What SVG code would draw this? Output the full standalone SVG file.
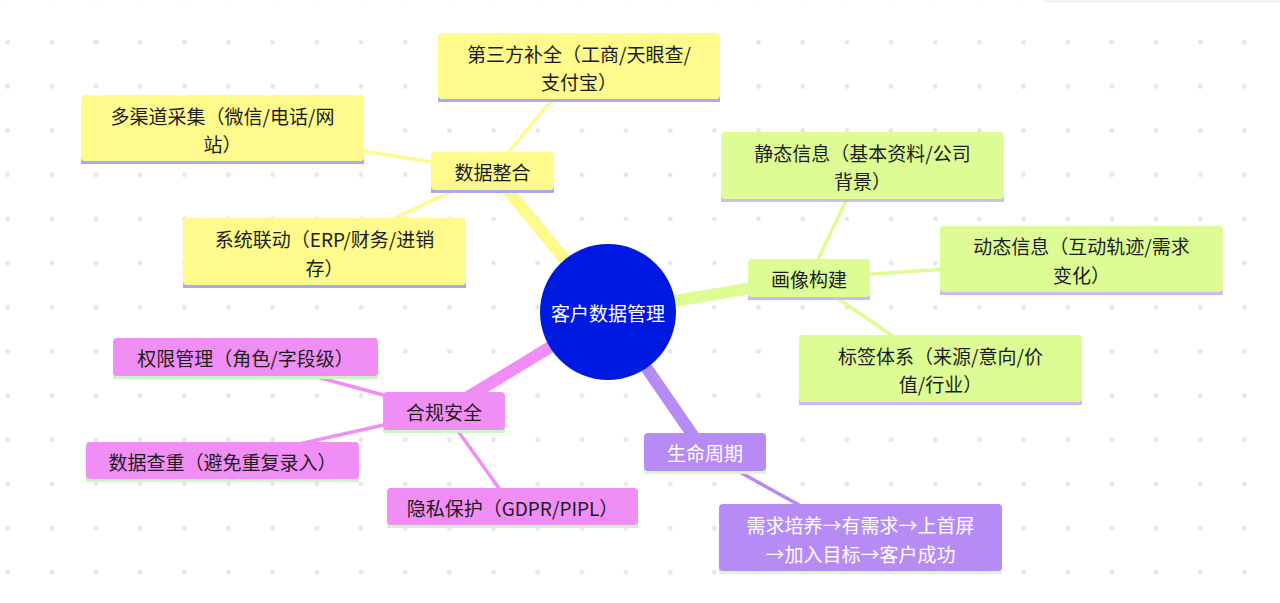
<svg xmlns="http://www.w3.org/2000/svg" width="1280" height="603" viewBox="0 0 1280 603">
  <defs>
    <pattern id="dots" x="-14.42" y="-23.95" width="44.17" height="44.17" patternUnits="userSpaceOnUse">
      <circle cx="22.08" cy="22.08" r="2.4" fill="#e6e6e6"/>
    </pattern>
    <style>
      .t { font-family: "Noto Sans CJK SC", "Noto Sans", sans-serif; font-size: 19px; fill: #1c1c1c; text-anchor: middle; dominant-baseline: central; }
      .w { fill: #ffffff; }
      .n-y { fill: #fffa8c; } .b-y { fill: #a9aaf5; }
      .n-g { fill: #ddfc94; } .b-g { fill: #cdb9f7; }
      .n-p { fill: #f08ef5; } .b-p { fill: #c9f7c4; }
      .n-v { fill: #b78bf5; } .b-v { fill: #d9f9c4; }
      .thick { stroke-width: 12; fill: none; }
      .thin { stroke-width: 3.5; fill: none; }
      .s-y { stroke: #fffa8c; } .s-g { stroke: #ddfc94; } .s-p { stroke: #f08ef5; } .s-v { stroke: #b78bf5; }
    </style>
  </defs>
  <rect x="0" y="0" width="1280" height="603" fill="#ffffff"/>
  <rect x="0" y="0" width="1280" height="603" fill="url(#dots)"/>
  <rect x="1040" y="-20" width="260" height="23" rx="11" fill="#f1f2f6"/>

  <g id="connectors">
    <line class="thick s-y" x1="608" y1="312" x2="492.5" y2="171.5"/>
    <line class="thick s-g" x1="608" y1="312" x2="809" y2="278.5"/>
    <line class="thick s-p" x1="608" y1="312" x2="444" y2="411.5"/>
    <line class="thick s-v" x1="608" y1="312" x2="705" y2="452.8"/>
    <line class="thin s-y" x1="492.5" y1="171.5" x2="579" y2="67.5"/>
    <line class="thin s-y" x1="492.5" y1="171.5" x2="222.5" y2="129"/>
    <line class="thin s-y" x1="492.5" y1="171.5" x2="324.5" y2="252"/>
    <line class="thin s-g" x1="809" y1="278.5" x2="862.5" y2="166"/>
    <line class="thin s-g" x1="809" y1="278.5" x2="1081.5" y2="259.5"/>
    <line class="thin s-g" x1="809" y1="278.5" x2="940.5" y2="369"/>
    <line class="thin s-p" x1="444" y1="411.5" x2="245.5" y2="357.5"/>
    <line class="thin s-p" x1="444" y1="411.5" x2="222.5" y2="461"/>
    <line class="thin s-p" x1="444" y1="411.5" x2="512.5" y2="507"/>
    <line class="thin s-v" x1="705" y1="452.8" x2="860.5" y2="539"/>
  </g>

  <g id="root">
    <circle cx="608" cy="312" r="68" fill="#0019e0"/>
    <text class="t w" x="608" y="312">客户数据管理</text>
  </g>

  <g id="n-shujuzhenghe">
    <rect class="b-y" x="431" y="186" width="123" height="7"/>
    <rect class="n-y" x="431" y="152" width="123" height="38" rx="4"/>
    <text class="t" x="492.5" y="171.5">数据整合</text>
  </g>
  <g id="n-disanfang">
    <rect class="b-y" x="438" y="95" width="282" height="7"/>
    <rect class="n-y" x="438" y="33" width="282" height="66" rx="4"/>
    <text class="t" x="579" y="53.3">第三方补全（工商/天眼查/</text>
    <text class="t" x="579" y="81.8">支付宝）</text>
  </g>
  <g id="n-duoqudao">
    <rect class="b-y" x="81" y="157" width="283" height="7"/>
    <rect class="n-y" x="81" y="95" width="283" height="66" rx="4"/>
    <text class="t" x="222.5" y="115">多渠道采集（微信/电话/网</text>
    <text class="t" x="222.5" y="143.5">站）</text>
  </g>
  <g id="n-xitong">
    <rect class="b-y" x="183" y="281" width="283" height="7"/>
    <rect class="n-y" x="183" y="218" width="283" height="67" rx="4"/>
    <text class="t" x="324.5" y="238.5">系统联动（ERP/财务/进销</text>
    <text class="t" x="324.5" y="267">存）</text>
  </g>

  <g id="n-huaxiang">
    <rect class="b-g" x="748" y="293" width="122" height="7"/>
    <rect class="n-g" x="748" y="259" width="122" height="38" rx="4"/>
    <text class="t" x="809" y="278.5">画像构建</text>
  </g>
  <g id="n-jingtai">
    <rect class="b-g" x="721" y="195" width="283" height="7"/>
    <rect class="n-g" x="721" y="132" width="283" height="67" rx="4"/>
    <text class="t" x="862.5" y="152.3">静态信息（基本资料/公司</text>
    <text class="t" x="862.5" y="180.8">背景）</text>
  </g>
  <g id="n-dongtai">
    <rect class="b-g" x="940" y="288" width="283" height="7"/>
    <rect class="n-g" x="940" y="226" width="283" height="66" rx="4"/>
    <text class="t" x="1081.5" y="245.5">动态信息（互动轨迹/需求</text>
    <text class="t" x="1081.5" y="274">变化）</text>
  </g>
  <g id="n-biaoqian">
    <rect class="b-g" x="799" y="398" width="283" height="7"/>
    <rect class="n-g" x="799" y="335" width="283" height="67" rx="4"/>
    <text class="t" x="940.5" y="355.3">标签体系（来源/意向/价</text>
    <text class="t" x="940.5" y="383.8">值/行业）</text>
  </g>

  <g id="n-hegui">
    <rect class="b-p" x="383" y="426" width="122" height="7"/>
    <rect class="n-p" x="383" y="392" width="122" height="38" rx="4"/>
    <text class="t" x="444" y="411.5">合规安全</text>
  </g>
  <g id="n-quanxian">
    <rect class="b-p" x="113" y="372" width="265" height="7"/>
    <rect class="n-p" x="113" y="338" width="265" height="38" rx="4"/>
    <text class="t" x="245.5" y="357.5">权限管理（角色/字段级）</text>
  </g>
  <g id="n-chachong">
    <rect class="b-p" x="86" y="475" width="273" height="7"/>
    <rect class="n-p" x="86" y="442" width="273" height="37" rx="4"/>
    <text class="t" x="222.5" y="461.2">数据查重（避免重复录入）</text>
  </g>
  <g id="n-yinsi">
    <rect class="b-p" x="387" y="521" width="251" height="7"/>
    <rect class="n-p" x="387" y="488" width="251" height="37" rx="4"/>
    <text class="t" x="512.5" y="507">隐私保护（GDPR/PIPL）</text>
  </g>

  <g id="n-shengming">
    <rect class="b-v" x="644" y="467" width="122" height="7"/>
    <rect class="n-v" x="644" y="433" width="122" height="38" rx="4"/>
    <text class="t w" x="705" y="452.8">生命周期</text>
  </g>
  <g id="n-liucheng">
    <rect class="b-v" x="719" y="567" width="283" height="7"/>
    <rect class="n-v" x="719" y="504" width="283" height="67" rx="4"/>
    <text class="t w" x="860.5" y="524.5">需求培养→有需求→上首屏</text>
    <text class="t w" x="860.5" y="553">→加入目标→客户成功</text>
  </g>
</svg>
